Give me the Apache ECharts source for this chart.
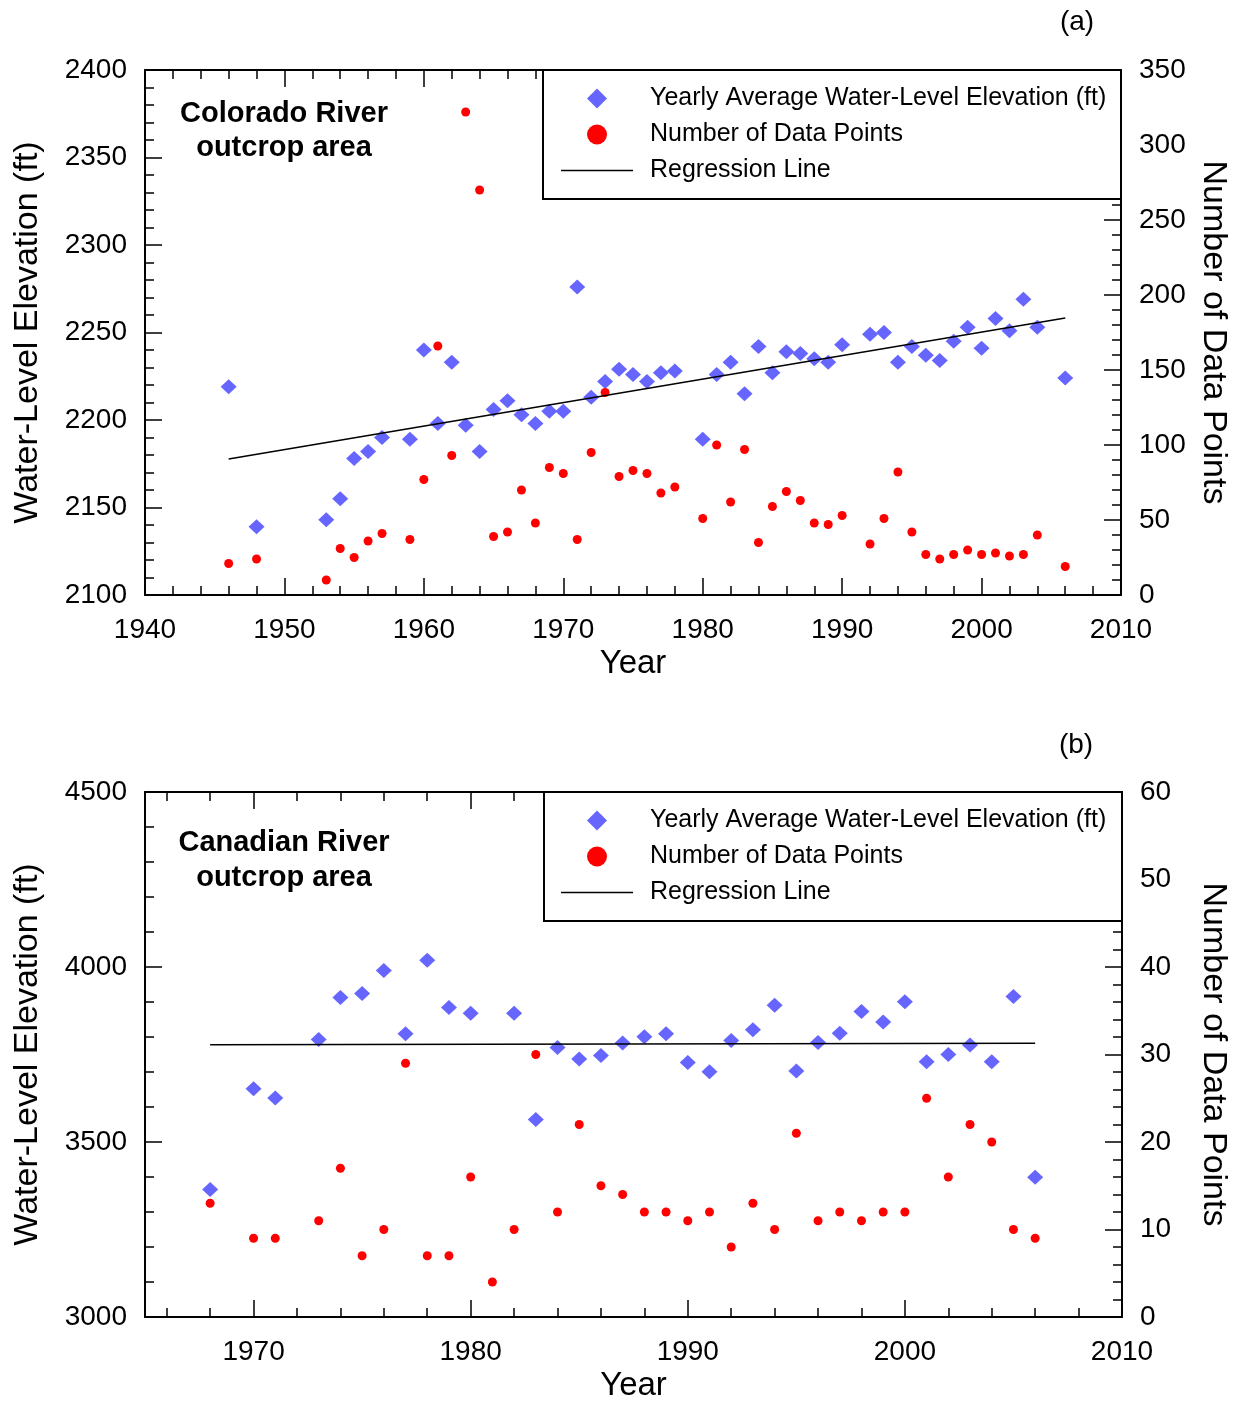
<!DOCTYPE html>
<html>
<head>
<meta charset="utf-8">
<script src="https://cdn.jsdelivr.net/npm/echarts@6/dist/echarts.min.js"></script>
<style>
  html, body { margin: 0; padding: 0; background: #fff; }
  #chart { width: 1241px; height: 1405px; }
</style>
</head>
<body>
<div id="chart"></div>
<script>
// (a) Colorado River outcrop area
var coloradoYears = [1946, 1948, 1953, 1954, 1955, 1956, 1957, 1959, 1960, 1961, 1962, 1963, 1964,
  1965, 1966, 1967, 1968, 1969, 1970, 1971, 1972, 1973, 1974, 1975, 1976, 1977, 1978, 1980, 1981,
  1982, 1983, 1984, 1985, 1986, 1987, 1988, 1989, 1990, 1992, 1993, 1994, 1995, 1996, 1997, 1998,
  1999, 2000, 2001, 2002, 2003, 2004, 2006];
var coloradoElev = [2219, 2139, 2143, 2155, 2178, 2182, 2190, 2189, 2240, 2198, 2233, 2197, 2182,
  2206, 2211, 2203, 2198, 2205, 2205, 2276, 2213, 2222, 2229, 2226, 2222, 2227, 2228, 2189, 2226,
  2233, 2215, 2242, 2227, 2239, 2238, 2235, 2233, 2243, 2249, 2250, 2233, 2242, 2237, 2234, 2245,
  2253, 2241, 2258, 2251, 2269, 2253, 2224];
var coloradoCount = [21, 24, 10, 31, 25, 36, 41, 37, 77, 166, 93, 322, 270,
  39, 42, 70, 48, 85, 81, 37, 95, 135, 79, 83, 81, 68, 72, 51, 100,
  62, 97, 35, 59, 69, 63, 48, 47, 53, 34, 51, 82, 42, 27, 24, 27,
  30, 27, 28, 26, 27, 40, 19];
var coloradoRegYears = [1946, 2006];
var coloradoRegElev = [2177.7, 2258.3];

// (b) Canadian River outcrop area
var canadianElevYears = [1968, 1970, 1971, 1973, 1974, 1975, 1976, 1977, 1978, 1979, 1980, 1982,
  1983, 1984, 1985, 1986, 1987, 1988, 1989, 1990, 1991, 1992, 1993, 1994, 1995, 1996, 1997, 1998,
  1999, 2000, 2001, 2002, 2003, 2004, 2005, 2006];
var canadianElev = [3364, 3652, 3626, 3793, 3913, 3924, 3990, 3809, 4019, 3884, 3868, 3868,
  3564, 3770, 3737, 3747, 3783, 3801, 3809, 3727, 3701, 3790, 3821, 3891, 3703, 3784, 3811, 3873,
  3843, 3901, 3729, 3750, 3777, 3729, 3916, 3399];
var canadianCountYears = [1968, 1970, 1971, 1973, 1974, 1975, 1976, 1977, 1978, 1979, 1980, 1981,
  1982, 1983, 1984, 1985, 1986, 1987, 1988, 1989, 1990, 1991, 1992, 1993, 1994, 1995, 1996, 1997,
  1998, 1999, 2000, 2001, 2002, 2003, 2004, 2005, 2006];
var canadianCount = [13, 9, 9, 11, 17, 7, 10, 29, 7, 7, 16, 4,
  10, 30, 12, 22, 15, 14, 12, 12, 11, 12, 8, 13, 10, 21, 11, 12,
  11, 12, 12, 25, 16, 22, 20, 10, 9];
var canadianRegYears = [1968, 2006];
var canadianRegElev = [3778, 3782];

// tick years for the (b) year axis
var canadianMajorYears = [1970, 1980, 1990, 2000, 2010];
var canadianMinorYears = [1966, 1968, 1970, 1972, 1974, 1976, 1978, 1980, 1982, 1984, 1986, 1988,
  1990, 1992, 1994, 1996, 1998, 2000, 2002, 2004, 2006, 2008, 2010];

var legendNames = ['Yearly Average Water-Level Elevation (ft)', 'Number of Data Points', 'Regression Line'];

var FONT = 'Liberation Sans, Arial, Helvetica, sans-serif';
var BLUE = '#6666ff';
var RED = '#ff0000';

function pairs(xs, ys) {
  return xs.map(function (x, i) { return [x, ys[i]]; });
}

function axis(extra) {
  var base = {
    type: 'value',
    splitLine: { show: false },
    axisLine: { show: true, onZero: false, lineStyle: { color: '#000', width: 2 } },
    axisTick: { show: true, inside: true, length: 17, lineStyle: { color: '#000', width: 1.5 } },
    minorTick: { show: true, splitNumber: 5, length: 9, lineStyle: { color: '#000', width: 1.5 } },
    axisLabel: { color: '#000', fontSize: 28, fontFamily: FONT, margin: 18,
      formatter: function (v) { return String(v); } },
    nameTextStyle: { color: '#000', fontSize: 34, fontFamily: FONT }
  };
  return echarts.util.merge(base, extra, true);
}

function legend(top) {
  return {
    orient: 'vertical', left: 561, top: top, padding: 0,
    itemWidth: 72, itemHeight: 20, itemGap: 11,
    selectedMode: false,
    textStyle: { color: '#000', fontSize: 25, fontFamily: FONT, padding: [0, 0, 0, 12] },
    data: [
      { name: legendNames[0], icon: 'path://M10,0L20,10L10,20L0,10Z' },
      { name: legendNames[1], icon: 'circle' },
      { name: legendNames[2], icon: 'path://M0,0H72V1.5H0Z' }
    ]
  };
}

function textEl(x, y, text, size, weight, lh) {
  return {
    type: 'text', x: x, y: y, z: 5,
    style: { text: text, fill: '#000', fontSize: size, fontWeight: weight, fontFamily: FONT,
      align: 'center', verticalAlign: 'middle', lineHeight: lh }
  };
}

var myChart = echarts.init(document.getElementById('chart'));

var option = {
  animation: false,
  backgroundColor: '#fff',
  grid: [
    { left: 145, top: 70, width: 976, height: 525 },
    { left: 145, top: 792, width: 977, height: 525 }
  ],
  legend: [legend(86), legend(808)],
  graphic: [
    { type: 'rect', z: 3, shape: { x: 543, y: 70, width: 578, height: 129 },
      style: { fill: '#fff', stroke: '#000', lineWidth: 2 } },
    { type: 'rect', z: 3, shape: { x: 544, y: 792, width: 578, height: 129 },
      style: { fill: '#fff', stroke: '#000', lineWidth: 2 } },
    textEl(284, 131, 'Colorado River\noutcrop area', 29, 'bold', 34),
    textEl(284, 860, 'Canadian River\noutcrop area', 29, 'bold', 35),
    textEl(1077, 22, '(a)', 28, 'normal', 30),
    textEl(1076, 745, '(b)', 28, 'normal', 30)
  ],
  xAxis: [
    axis({ gridIndex: 0, position: 'bottom', min: 1940, max: 2010, interval: 10,
      name: 'Year', nameLocation: 'middle', nameGap: 52,
      axisLabel: { margin: 21 }, nameTextStyle: { fontSize: 33 } }),
    axis({ gridIndex: 0, position: 'top', min: 1940, max: 2010, interval: 10,
      axisLabel: { show: false } }),
    axis({ gridIndex: 1, position: 'bottom', min: 1965, max: 2010,
      name: 'Year', nameLocation: 'middle', nameGap: 52,
      axisLabel: { margin: 21, customValues: canadianMajorYears },
      axisTick: { customValues: canadianMajorYears },
      minorTick: { show: false }, nameTextStyle: { fontSize: 33 } }),
    axis({ gridIndex: 1, position: 'bottom', min: 1965, max: 2010,
      axisLine: { show: false }, axisLabel: { show: false },
      axisTick: { customValues: canadianMinorYears, length: 9 }, minorTick: { show: false } }),
    axis({ gridIndex: 1, position: 'top', min: 1965, max: 2010,
      axisLabel: { show: false, customValues: canadianMajorYears },
      axisTick: { customValues: canadianMajorYears }, minorTick: { show: false } }),
    axis({ gridIndex: 1, position: 'top', min: 1965, max: 2010,
      axisLine: { show: false }, axisLabel: { show: false },
      axisTick: { customValues: canadianMinorYears, length: 9 }, minorTick: { show: false } })
  ],
  yAxis: [
    axis({ gridIndex: 0, position: 'left', min: 2100, max: 2400, interval: 50,
      name: 'Water-Level Elevation (ft)', nameLocation: 'middle', nameGap: 100 }),
    axis({ gridIndex: 0, position: 'right', min: 0, max: 350, interval: 50,
      name: 'Number of Data Points', nameLocation: 'middle', nameGap: 74, nameRotate: -90 }),
    axis({ gridIndex: 1, position: 'left', min: 3000, max: 4500, interval: 500,
      name: 'Water-Level Elevation (ft)', nameLocation: 'middle', nameGap: 100 }),
    axis({ gridIndex: 1, position: 'right', min: 0, max: 60, interval: 10,
      name: 'Number of Data Points', nameLocation: 'middle', nameGap: 74, nameRotate: -90 })
  ],
  series: [
    { name: legendNames[0], type: 'scatter', xAxisIndex: 0, yAxisIndex: 0,
      symbol: 'diamond', symbolSize: [16, 15], itemStyle: { color: BLUE, opacity: 1 },
      data: pairs(coloradoYears, coloradoElev) },
    { name: legendNames[1], type: 'scatter', xAxisIndex: 0, yAxisIndex: 1,
      symbol: 'circle', symbolSize: 9, itemStyle: { color: RED, opacity: 1 },
      data: pairs(coloradoYears, coloradoCount) },
    { name: legendNames[2], type: 'line', xAxisIndex: 0, yAxisIndex: 0,
      symbol: 'none', lineStyle: { color: '#000', width: 1.5 }, itemStyle: { color: '#000' },
      data: pairs(coloradoRegYears, coloradoRegElev) },
    { name: legendNames[0], type: 'scatter', xAxisIndex: 2, yAxisIndex: 2,
      symbol: 'diamond', symbolSize: [16, 15], itemStyle: { color: BLUE, opacity: 1 },
      data: pairs(canadianElevYears, canadianElev) },
    { name: legendNames[1], type: 'scatter', xAxisIndex: 2, yAxisIndex: 3,
      symbol: 'circle', symbolSize: 9, itemStyle: { color: RED, opacity: 1 },
      data: pairs(canadianCountYears, canadianCount) },
    { name: legendNames[2], type: 'line', xAxisIndex: 2, yAxisIndex: 2,
      symbol: 'none', lineStyle: { color: '#000', width: 1.5 }, itemStyle: { color: '#000' },
      data: pairs(canadianRegYears, canadianRegElev) }
  ]
};

myChart.setOption(option);
</script>
</body>
</html>
